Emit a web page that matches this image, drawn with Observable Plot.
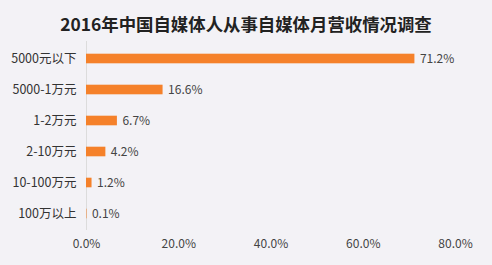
<!DOCTYPE html>
<html>
<head>
<meta charset="utf-8">
<script src="https://cdn.jsdelivr.net/npm/d3@7"></script>
<script src="https://cdn.jsdelivr.net/npm/@observablehq/plot@0.6"></script>
<style>
  html, body { margin: 0; padding: 0; background: #f3f2f6; }
  #wrap { width: 492px; height: 265px; overflow: hidden; }
  #title { height: 40px; line-height: 48px; text-align: center; font-family: "Noto Sans CJK SC", sans-serif; font-weight: bold; font-size: 17.4px; color: #222; }
  svg { display: block; }
</style>
</head>
<body>
<div id="wrap">
  <div id="title">2016年中国自媒体人从事自媒体月营收情况调查</div>
  <div id="chart"></div>
</div>
<script>
const categories = ["5000元以下", "5000-1万元", "1-2万元", "2-10万元", "10-100万元", "100万以上"];
const values = [71.2, 16.6, 6.7, 4.2, 1.2, 0.1];
const xTicks = [0, 20, 40, 60, 80];

const data = categories.map((c, i) => ({category: c, value: values[i]}));
const font = "'Noto Sans CJK SC', sans-serif";

const chart = Plot.plot({
  width: 492,
  height: 225,
  marginTop: 1,
  marginBottom: 35,
  marginLeft: 86,
  marginRight: 37,
  style: {background: "transparent", fontFamily: font, fontSize: "12px", color: "#444"},
  x: {domain: [0, 80], ticks: xTicks, tickFormat: d => d.toFixed(1) + "%", tickSize: 0, tickPadding: 10, label: null},
  y: {domain: categories, padding: 0, label: null},
  marks: [
    Plot.ruleX([0], {stroke: "#dcdcdc", strokeWidth: 1}),
    Plot.barX(data, {x: "value", y: "category", fill: "#f5812a", insetTop: 10.7, insetBottom: 10.7}),
    Plot.text(data, {x: "value", y: "category", text: d => d.value.toFixed(1) + "%", textAnchor: "start", dx: 5, fill: "#444", fontSize: 12}),
    Plot.axisY({tickSize: 0, tickPadding: 10, fontSize: 12.5, color: "#333", label: null}),
    Plot.axisX({ticks: xTicks, tickFormat: d => d.toFixed(1) + "%", tickSize: 0, tickPadding: 9, fontSize: 12, color: "#444", label: null})
  ]
});
document.getElementById("chart").appendChild(chart);
</script>
</body>
</html>
